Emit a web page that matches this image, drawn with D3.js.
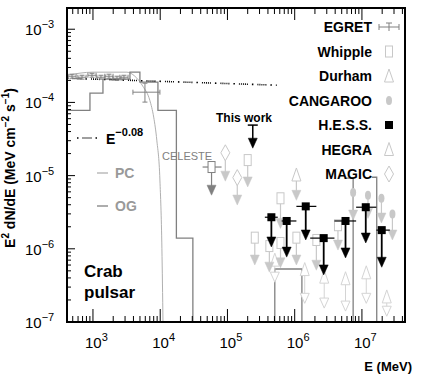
<!DOCTYPE html>
<html>
<head>
<meta charset="utf-8">
<script src="https://cdn.jsdelivr.net/npm/d3@7"></script>
<style>
body { margin: 0; background: #fff; }
svg { font-family: "Liberation Sans", Arial, sans-serif; }
</style>
</head>
<body>
<div id="chart"></div>
<script>
// ---- data (E in MeV, E^2 dN/dE in MeV cm^-2 s^-1) ----
const xMajor = [1e3, 1e4, 1e5, 1e6, 1e7];
const xExp = ['3', '4', '5', '6', '7'];
const yMajor = [1e-7, 1e-6, 1e-5, 1e-4, 1e-3];
const yExp = ['\u22127', '\u22126', '\u22125', '\u22124', '\u22123'];

// EGRET points with error bars
const egret = [
  { e: 488,  f: 2.28e-4, elo: 425,  ehi: 561,  flo: 2.14e-4, fhi: 2.43e-4 },
  { e: 687,  f: 2.21e-4, elo: 597,  ehi: 790,  flo: 2.08e-4, fhi: 2.35e-4 },
  { e: 967,  f: 2.35e-4, elo: 841,  ehi: 1112, flo: 2.21e-4, fhi: 2.50e-4 },
  { e: 1314, f: 2.21e-4, elo: 1143, ehi: 1511, flo: 2.08e-4, fhi: 2.35e-4 },
  { e: 1730, f: 2.28e-4, elo: 1504, ehi: 1990, flo: 2.14e-4, fhi: 2.43e-4 },
  { e: 2275, f: 2.14e-4, elo: 1978, ehi: 2616, flo: 2.01e-4, fhi: 2.28e-4 },
  { e: 2890, f: 2.21e-4, elo: 2513, ehi: 3324, flo: 2.08e-4, fhi: 2.35e-4 },
  { e: 5930, f: 1.38e-4, elo: 3930, ehi: 9900, flo: 1.01e-4, fhi: 1.83e-4 }
];

// E^-0.08 power law (end points)
const powerLaw = [ { e: 411, f: 2.14e-4 }, { e: 5.4e5, f: 1.72e-4 } ];

// polar cap model curve
const pcCurve = [
  { e: 411, f: 2.35e-4 }, { e: 1000, f: 2.59e-4 }, { e: 3200, f: 2.59e-4 },
  { e: 4200, f: 2.28e-4 }, { e: 5500, f: 1.67e-4 }, { e: 7000, f: 1.07e-4 },
  { e: 8000, f: 6.3e-5 }, { e: 8900, f: 3.05e-5 }, { e: 9900, f: 8.7e-6 },
  { e: 1.06e4, f: 1.0e-6 }, { e: 1.1e4, f: 1e-7 }
];

// outer gap model (histogram pieces)
const ogSteps = [
  [ { e: 411, f: 7.8e-5 }, { e: 902, f: 7.8e-5 }, { e: 902, f: 1.34e-4 },
    { e: 1408, f: 1.34e-4 }, { e: 1408, f: 2.08e-4 }, { e: 3548, f: 2.08e-4 },
    { e: 3548, f: 2.59e-4 }, { e: 4990, f: 2.59e-4 }, { e: 4990, f: 1.89e-4 },
    { e: 9250, f: 1.89e-4 }, { e: 9250, f: 7.8e-5 }, { e: 1.74e4, f: 7.8e-5 },
    { e: 1.74e4, f: 1.4e-6 }, { e: 3.06e4, f: 1.4e-6 }, { e: 3.06e4, f: 1e-7 } ],
  [ { e: 5.06e5, f: 1e-7 }, { e: 5.06e5, f: 5.3e-7 }, { e: 1.28e6, f: 5.3e-7 }, { e: 1.28e6, f: 1e-7 } ],
  [ { e: 5.55e6, f: 9.25e-6 }, { e: 7.4e6, f: 9.25e-6 }, { e: 7.4e6, f: 1e-7 } ],
  [ { e: 1.4e7, f: 9.5e-6 }, { e: 1.66e7, f: 9.5e-6 }, { e: 1.66e7, f: 1e-7 } ]
];

// upper limits: marker flux f, arrow tip lim
const whipple = [
  { e: 2.0e5, f: 1.63e-5, lim: 7.0e-6 },
  { e: 2.55e5, f: 1.42e-6, lim: 6.0e-7 },
  { e: 4.2e5, f: 1.09e-6, lim: 4.8e-7 },
  { e: 6.15e5, f: 4.9e-6, lim: 1.9e-6 },
  { e: 6.15e5, f: 1.2e-6, lim: 5.5e-7 },
  { e: 1.06e6, f: 1.42e-6, lim: 6.0e-7 },
  { e: 2.1e6, f: 1.32e-6, lim: 5.1e-7 },
  { e: 4.4e6, f: 2.1e-6, lim: 9.6e-7 }
];
const durham = [ { e: 1.06e6, f: 1.02e-5, lim: 4.6e-6 } ];
const cangaroo = [
  { e: 7.4e6, f: 5.9e-6, lim: 2.47e-6 },
  { e: 1.23e7, f: 5.4e-6, lim: 2.6e-6 },
  { e: 1.95e7, f: 4.9e-6, lim: 2.25e-6 },
  { e: 2.84e7, f: 3.0e-6, lim: 1.32e-6 }
];
const hegra = [
  { e: 5.06e5, f: 7.0e-7, lim: 3.5e-7 },
  { e: 1.41e6, f: 5.2e-7, lim: 1.8e-7 },
  { e: 2.75e6, f: 4.1e-7, lim: 1.55e-7 },
  { e: 5.7e6, f: 3.9e-7, lim: 1.41e-7 },
  { e: 1.16e7, f: 4.7e-7, lim: 1.8e-7 },
  { e: 2.34e7, f: 2.2e-7, lim: 1.2e-7 }
];
const magic = [
  { e: 9.3e4, f: 2.05e-5, lim: 8.4e-6 },
  { e: 1.4e5, f: 9.4e-6, lim: 3.96e-6 }
];
const celeste = [ { e: 5.8e4, f: 1.31e-5, lim: 5.4e-6, elo: 4.27e4, ehi: 8.17e4 } ];
const hess = [
  { e: 4.5e5, f: 2.7e-6, lim: 1.06e-6, elo: 3.6e5, ehi: 5.6e5 },
  { e: 7.6e5, f: 2.4e-6, lim: 7.7e-7, elo: 6.4e5, ehi: 1.06e6 },
  { e: 1.46e6, f: 3.8e-6, lim: 1.32e-6, elo: 1.06e6, ehi: 2.1e6 },
  { e: 2.7e6, f: 1.4e-6, lim: 4.4e-7, elo: 1.7e6, ehi: 3.9e6 },
  { e: 5.7e6, f: 2.4e-6, lim: 7.5e-7, elo: 3.9e6, ehi: 8.2e6 },
  { e: 1.14e7, f: 3.7e-6, lim: 1.2e-6, elo: 8.2e6, ehi: 1.64e7 },
  { e: 1.97e7, f: 1.8e-6, lim: 5.6e-7, elo: 1.64e7, ehi: 2.6e7 }
];
const thisWork = [ { e: 2.38e5, f: 4.9e-5, lim: 2.37e-5 } ];

// ---- layout ----
const W = 425, H = 375;
const mLeft = 67, mRight = 405, mTop = 8, mBottom = 322;
const LIGHT = '#c8c8c8', MID = '#808080';
const PL_DASH = '1.5,4,1,1,1,1,1,1,1,1,1,4';

const svg = d3.select('#chart').append('svg').attr('width', W).attr('height', H);

const x = d3.scaleLog().domain([411, 4.37e7]).range([mLeft, mRight]);
const y = d3.scaleLog().domain([1e-7, 1.95e-3]).range([mBottom, mTop]);

svg.append('defs').append('clipPath').attr('id', 'clip')
  .append('rect').attr('x', mLeft).attr('y', mTop).attr('width', mRight - mLeft).attr('height', mBottom - mTop);

const plot = svg.append('g').attr('clip-path', 'url(#clip)');
const line = d3.line().x(d => x(d.e)).y(d => y(d.f));

// models
plot.append('path').datum(pcCurve).attr('d', d3.line().x(d => x(d.e)).y(d => y(d.f)).curve(d3.curveMonotoneX))
  .attr('fill', 'none').attr('stroke', '#b0b0b0').attr('stroke-width', 1);
ogSteps.forEach(s => {
  plot.append('path').datum(s).attr('d', line)
    .attr('fill', 'none').attr('stroke', MID).attr('stroke-width', 1.3);
});
plot.append('path').datum(powerLaw).attr('d', line)
  .attr('fill', 'none').attr('stroke', '#000').attr('stroke-width', 1.6)
  .attr('stroke-dasharray', PL_DASH);

// markers
function arrowHead(g, cx, tipY, color, open) {
  g.append('path')
    .attr('d', `M${cx - 4.5},${tipY - 10}L${cx + 4.5},${tipY - 10}L${cx},${tipY}Z`)
    .attr('fill', open ? '#fff' : color).attr('stroke', color).attr('stroke-width', open ? 1 : 0.5);
}
function marker(g, type, cx, cy, color) {
  if (type === 'rect') {
    g.append('rect').attr('x', cx - 3.5).attr('y', cy - 5.5).attr('width', 7).attr('height', 11)
      .attr('fill', '#fff').attr('stroke', color).attr('stroke-width', 1);
  } else if (type === 'tri') {
    g.append('path').attr('d', `M${cx},${cy - 7}L${cx + 4.5},${cy + 6}L${cx - 4.5},${cy + 6}Z`)
      .attr('fill', '#fff').attr('stroke', color).attr('stroke-width', 1);
  } else if (type === 'diamond') {
    g.append('path').attr('d', `M${cx},${cy - 8}L${cx + 4.5},${cy}L${cx},${cy + 8}L${cx - 4.5},${cy}Z`)
      .attr('fill', '#fff').attr('stroke', color).attr('stroke-width', 1);
  } else if (type === 'ellipse') {
    g.append('ellipse').attr('cx', cx).attr('cy', cy).attr('rx', 3).attr('ry', 4.5).attr('fill', color);
  } else if (type === 'square') {
    g.append('rect').attr('x', cx - 4).attr('y', cy - 4).attr('width', 8).attr('height', 8).attr('fill', color);
  } else if (type === 'egret') {
    g.append('line').attr('x1', cx - 10).attr('x2', cx + 10).attr('y1', cy).attr('y2', cy).attr('stroke', color);
    g.append('line').attr('x1', cx - 10).attr('x2', cx - 10).attr('y1', cy - 3).attr('y2', cy + 3).attr('stroke', color);
    g.append('line').attr('x1', cx + 10).attr('x2', cx + 10).attr('y1', cy - 3).attr('y2', cy + 3).attr('stroke', color);
    g.append('line').attr('x1', cx).attr('x2', cx).attr('y1', cy - 4).attr('y2', cy + 4).attr('stroke', color);
    g.append('line').attr('x1', cx - 3).attr('x2', cx + 3).attr('y1', cy - 4).attr('y2', cy - 4).attr('stroke', color);
  }
}
function upperLimits(data, type, color, opts = {}) {
  const g = plot.append('g');
  data.forEach(d => {
    const cx = x(d.e), cy = y(d.f), ty = y(d.lim);
    if (opts.doubleTri) {
      g.append('line').attr('x1', cx).attr('x2', cx).attr('y1', cy).attr('y2', ty - 8)
        .attr('stroke', color).attr('stroke-width', 1);
      arrowHead(g, cx, ty, color, true);
      marker(g, 'tri', cx, cy, color);
      return;
    }
    g.append('line').attr('x1', cx).attr('x2', cx).attr('y1', cy).attr('y2', ty - 8)
      .attr('stroke', color).attr('stroke-width', opts.lw || 1.2);
    arrowHead(g, cx, ty, color, false);
    if (d.elo) {
      g.append('line').attr('x1', x(d.elo)).attr('x2', x(d.ehi)).attr('y1', cy).attr('y2', cy)
        .attr('stroke', color).attr('stroke-width', 1.2);
    }
    if (type === 'cap') {
      g.append('line').attr('x1', cx - 5).attr('x2', cx + 5).attr('y1', cy).attr('y2', cy)
        .attr('stroke', color).attr('stroke-width', 1.5);
    } else {
      marker(g, type, cx, cy, color);
    }
  });
}

upperLimits(hegra, 'tri', '#d4d4d4', { doubleTri: true });
upperLimits(whipple, 'rect', LIGHT);
upperLimits(durham, 'tri', LIGHT);
upperLimits(magic, 'diamond', LIGHT);
upperLimits(cangaroo, 'ellipse', LIGHT);
upperLimits(celeste, 'rect', MID);
upperLimits(hess, 'square', '#000', { lw: 1.8 });
upperLimits(thisWork, 'cap', '#000', { lw: 1.5 });

// EGRET points
const eg = plot.append('g');
egret.forEach(d => {
  const cx = x(d.e), cy = y(d.f);
  eg.append('line').attr('x1', x(d.elo)).attr('x2', x(d.ehi)).attr('y1', cy).attr('y2', cy).attr('stroke', MID);
  eg.append('line').attr('x1', cx).attr('x2', cx).attr('y1', y(d.flo)).attr('y2', y(d.fhi)).attr('stroke', MID);
  [d.elo, d.ehi].forEach(v => eg.append('line').attr('x1', x(v)).attr('x2', x(v))
    .attr('y1', cy - 2.5).attr('y2', cy + 2.5).attr('stroke', MID));
  [d.flo, d.fhi].forEach(v => eg.append('line').attr('x1', cx - 2.5).attr('x2', cx + 2.5)
    .attr('y1', y(v)).attr('y2', y(v)).attr('stroke', MID));
});

// ---- axes ----
const ax = svg.append('g').attr('stroke', '#000');
const xTicks = x.ticks().filter(v => v >= 411 && v <= 4.37e7);
xTicks.forEach(v => {
  const major = xMajor.some(m => Math.abs(m - v) / m < 1e-6);
  const px = x(v);
  ax.append('line').attr('x1', px).attr('x2', px).attr('y1', mBottom).attr('y2', mBottom - (major ? 13 : 6));
  ax.append('line').attr('x1', px).attr('x2', px).attr('y1', mTop).attr('y2', mTop + (major ? 12 : 6));
});
const yTicks = y.ticks().filter(v => v >= 1e-7 && v <= 1.95e-3);
yTicks.forEach(v => {
  const major = yMajor.some(m => Math.abs(m - v) / m < 1e-6);
  const py = y(v);
  ax.append('line').attr('x1', mLeft).attr('x2', mLeft + (major ? 8 : 4)).attr('y1', py).attr('y2', py);
});
svg.append('rect').attr('x', mLeft).attr('y', mTop).attr('width', mRight - mLeft).attr('height', mBottom - mTop)
  .attr('fill', 'none').attr('stroke', '#000').attr('stroke-width', 2);

// tick labels
xMajor.forEach((v, i) => {
  const t = svg.append('text').attr('x', x(v) - 8).attr('y', 348).attr('font-size', 15);
  t.append('tspan').text('10');
  t.append('tspan').attr('dy', -7).attr('font-size', 11).text(xExp[i]);
});
yMajor.forEach((v, i) => {
  const t = svg.append('text').attr('x', 25).attr('y', y(v) + 6).attr('font-size', 15);
  t.append('tspan').text('10');
  t.append('tspan').attr('dy', -7).attr('font-size', 11).text(yExp[i]);
});

// axis titles
const yt = svg.append('text').attr('transform', 'translate(15,168) rotate(-90)')
  .attr('text-anchor', 'middle').attr('font-size', 14).attr('font-weight', 'bold');
yt.append('tspan').text('E');
yt.append('tspan').attr('dy', -6).attr('font-size', 10).text('2');
yt.append('tspan').attr('dy', 6).text(' dN/dE (MeV cm');
yt.append('tspan').attr('dy', -6).attr('font-size', 10).text('\u22122');
yt.append('tspan').attr('dy', 6).text(' s');
yt.append('tspan').attr('dy', -6).attr('font-size', 10).text('\u22121');
yt.append('tspan').attr('dy', 6).text(')');

svg.append('text').attr('x', 412).attr('y', 371).attr('text-anchor', 'end')
  .attr('font-size', 13).attr('font-weight', 'bold').text('E (MeV)');

// ---- labels / legends ----
svg.append('text').attr('x', 84).attr('y', 277).attr('font-size', 17).attr('font-weight', 'bold').text('Crab');
svg.append('text').attr('x', 84).attr('y', 298).attr('font-size', 17).attr('font-weight', 'bold').text('pulsar');
svg.append('text').attr('x', 216).attr('y', 122).attr('font-size', 12).attr('font-weight', 'bold').text('This work');
svg.append('text').attr('x', 162).attr('y', 160).attr('font-size', 11).attr('fill', MID).text('CELESTE');

// left legend
svg.append('line').attr('x1', 77).attr('x2', 98).attr('y1', 138).attr('y2', 138)
  .attr('stroke', '#000').attr('stroke-width', 1.6).attr('stroke-dasharray', PL_DASH);
const pl = svg.append('text').attr('x', 106).attr('y', 144).attr('font-size', 14).attr('font-weight', 'bold');
pl.append('tspan').text('E');
pl.append('tspan').attr('dy', -8).attr('font-size', 11).text('\u22120.08');
[['PC', 173, '#b0b0b0'], ['OG', 206, MID]].forEach(([lab, yy, c]) => {
  svg.append('line').attr('x1', 97).attr('x2', 108).attr('y1', yy).attr('y2', yy).attr('stroke', c).attr('stroke-width', 1.3);
  svg.append('text').attr('x', 115).attr('y', yy + 5).attr('font-size', 14).attr('font-weight', 'bold')
    .attr('fill', '#999').text(lab);
});

// right legend
const legendItems = [
  ['EGRET', 'egret', MID], ['Whipple', 'rect', LIGHT], ['Durham', 'tri', LIGHT],
  ['CANGAROO', 'ellipse', LIGHT], ['H.E.S.S.', 'square', '#000'], ['HEGRA', 'tri', LIGHT],
  ['MAGIC', 'diamond', LIGHT]
];
const lg = svg.append('g');
legendItems.forEach(([lab, type, c], i) => {
  const yy = 27 + i * 24.5;
  lg.append('text').attr('x', 372).attr('y', yy + 5).attr('text-anchor', 'end')
    .attr('font-size', 14).attr('font-weight', 'bold').text(lab);
  marker(lg, type, 389, yy, c);
});
</script>
</body>
</html>
